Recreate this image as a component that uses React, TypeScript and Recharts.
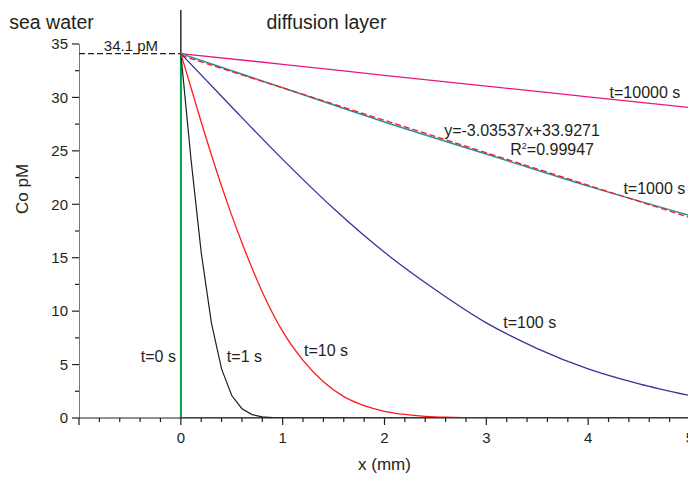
import React from 'react';
import { LineChart, Line, XAxis, YAxis, ReferenceDot } from 'recharts';

// concentration profiles (x in mm, Co in pM)
const xT1 = [0, 0.1, 0.2, 0.3, 0.4, 0.5, 0.6, 0.7, 0.8, 0.9, 1.0, 1.2, 5];
const cT1 = [34.1, 24.2, 15.5, 8.9, 4.6, 2.1, 0.87, 0.32, 0.1, 0.03, 0.01, 0, 0];

const xT10 = [0, 0.2, 0.4, 0.6, 0.8, 1.0, 1.2, 1.4, 1.6, 1.8, 2.0, 2.2, 2.4, 2.6, 2.8, 3.0, 5];
const cT10 = [34.1, 27.7, 21.7, 16.4, 11.8, 8.1, 5.4, 3.4, 2.0, 1.16, 0.63, 0.33, 0.16, 0.07, 0.03, 0.01, 0];

const xT100 = [0, 0.5, 1.0, 1.5, 2.0, 2.5, 3.0, 3.5, 4.0, 4.5, 5.0];
const cT100 = [34.1, 29.1, 24.2, 19.6, 15.5, 12.0, 8.9, 6.5, 4.6, 3.2, 2.1];

const xT1000 = [0, 0.5, 1, 2, 3, 4, 5];
const cT1000 = [34.1, 32.5, 30.9, 27.7, 24.7, 21.7, 18.95];

const xT10000 = [0, 1, 2, 3, 4, 5];
const cT10000 = [34.1, 33.1, 32.07, 31.06, 30.06, 29.05];

const xT0 = [0, 0, 5];
const cT0 = [34.1, 0, 0];

// linear fit of the t=1000 s profile
const xFit = [0, 5];
const cFit = [33.93, 18.75];

const xSea = [-1, 0];
const cSea = [34.1, 34.1];

const xDivider = [0, 0];
const cDivider = [0, 38.18];

const xAxisLine = [-1, -1];
const cAxisLine = [0, 35];

const xMajor = [0, 1, 2, 3, 4, 5];
const yMajor = [0, 5, 10, 15, 20, 25, 30, 35];

const xTicks: number[] = [];
for (let i = -5; i <= 25; i++) xTicks.push(Math.round(i * 20) / 100);
const yTicks: number[] = [];
for (let i = 0; i <= 14; i++) yTicks.push(i * 2.5);

const pts = (xs: number[], ys: number[]) => xs.map((x, i) => ({ x, y: ys[i] }));

const FONT = '"Liberation Sans", Arial, sans-serif';
const AXIS = '#231f20';

const XTick = (props: any) => {
  const { x, y, payload } = props;
  const v = payload.value;
  const major = xMajor.includes(v) || v === -1;
  return (
    <g>
      <line x1={x} y1={y} x2={x} y2={y + (major ? 7 : 4)} stroke={AXIS} strokeWidth={1.2} />
      {xMajor.includes(v) && (
        <text x={x} y={y + 25} textAnchor="middle" fontSize={15} fontFamily={FONT} fill={AXIS}>
          {v}
        </text>
      )}
    </g>
  );
};

const YTick = (props: any) => {
  const { x, y, payload } = props;
  const v = payload.value;
  const major = yMajor.includes(v);
  return (
    <g>
      <line x1={x} y1={y} x2={x - (major ? 7 : 4)} y2={y} stroke={AXIS} strokeWidth={1.2} />
      {major && (
        <text x={x - 11} y={y} dy="0.35em" textAnchor="end" fontSize={15} fontFamily={FONT} fill={AXIS}>
          {v}
        </text>
      )}
    </g>
  );
};

const note = (text: React.ReactNode, size: number, anchor: string) => (props: any) => {
  const vb = props.viewBox || {};
  return (
    <text
      x={vb.x}
      y={vb.y}
      dy="0.35em"
      textAnchor={anchor}
      fontSize={size}
      fontFamily={FONT}
      fill={AXIS}
    >
      {text}
    </text>
  );
};

const notes: { x: number; y: number; text: React.ReactNode; size: number; anchor: string }[] = [
  { x: -1.27, y: 37.06, text: 'sea water', size: 19.5, anchor: 'middle' },
  { x: 1.43, y: 37.06, text: 'diffusion layer', size: 19.5, anchor: 'middle' },
  { x: -0.49, y: 34.85, text: '34.1 pM', size: 15, anchor: 'middle' },
  { x: 4.21, y: 30.5, text: 't=10000 s', size: 16, anchor: 'start' },
  { x: 2.586, y: 26.95, text: 'y=-3.03537x+33.9271', size: 16, anchor: 'start' },
  {
    x: 3.235,
    y: 25.17,
    text: (
      <>
        R<tspan fontSize={9} dy={-6}>2</tspan>
        <tspan dy={6}>=0.99947</tspan>
      </>
    ),
    size: 16,
    anchor: 'start',
  },
  { x: 4.346, y: 21.5, text: 't=1000 s', size: 16, anchor: 'start' },
  { x: 3.166, y: 8.9, text: 't=100 s', size: 16, anchor: 'start' },
  { x: 1.21, y: 6.36, text: 't=10 s', size: 16, anchor: 'start' },
  { x: 0.452, y: 5.8, text: 't=1 s', size: 16, anchor: 'start' },
  { x: -0.393, y: 5.8, text: 't=0 s', size: 16, anchor: 'start' },
];

export default function App() {
  return (
    <div style={{ position: 'absolute', left: 0, top: 0, width: 688, height: 477, overflow: 'hidden', background: '#fff' }}>
      <LineChart width={690} height={477} margin={{ top: 10, right: 0, bottom: 0, left: 0 }}>
        <XAxis
          type="number"
          dataKey="x"
          domain={[-1, 5]}
          ticks={xTicks}
          interval={0}
          allowDataOverflow
          tickSize={0}
          tickMargin={0}
          tickLine={false}
          tick={<XTick />}
          height={59}
          stroke={AXIS}
          strokeWidth={1.2}
          label={{ value: 'x (mm)', position: 'insideBottom', offset: 7, fontSize: 17, fontFamily: FONT, fill: AXIS }}
        />
        <YAxis
          type="number"
          dataKey="y"
          domain={[0, 38.18]}
          ticks={yTicks}
          interval={0}
          allowDataOverflow
          axisLine={false}
          tickSize={0}
          tickMargin={0}
          tickLine={false}
          tick={<YTick />}
          width={79}
          label={{ value: 'Co pM', angle: -90, position: 'insideLeft', offset: 22, fontSize: 17, fontFamily: FONT, fill: AXIS }}
        />
        <Line data={pts(xAxisLine, cAxisLine)} dataKey="y" stroke={AXIS} strokeWidth={1.2} dot={false} isAnimationActive={false} />
        <Line data={pts(xDivider, cDivider)} dataKey="y" stroke={AXIS} strokeWidth={1.4} dot={false} isAnimationActive={false} />
        <Line data={pts(xSea, cSea)} dataKey="y" stroke={AXIS} strokeWidth={1.2} strokeDasharray="6 3" dot={false} isAnimationActive={false} />
        <Line data={pts(xT10000, cT10000)} dataKey="y" type="monotone" stroke="#e6197e" strokeWidth={1.3} dot={false} isAnimationActive={false} />
        <Line data={pts(xT1000, cT1000)} dataKey="y" type="monotone" stroke="#23909e" strokeWidth={1.5} dot={false} isAnimationActive={false} />
        <Line data={pts(xFit, cFit)} dataKey="y" stroke="#ff1a1a" strokeWidth={1.3} strokeDasharray="6 3" dot={false} isAnimationActive={false} />
        <Line data={pts(xT100, cT100)} dataKey="y" type="monotone" stroke="#34349e" strokeWidth={1.3} dot={false} isAnimationActive={false} />
        <Line data={pts(xT0, cT0)} dataKey="y" stroke="#00a651" strokeWidth={1.8} dot={false} isAnimationActive={false} />
        <Line data={pts(xT1, cT1)} dataKey="y" stroke="#231f20" strokeWidth={1.2} dot={false} isAnimationActive={false} />
        <Line data={pts(xT10, cT10)} dataKey="y" type="monotone" stroke="#ff1a1a" strokeWidth={1.3} dot={false} isAnimationActive={false} />
        {notes.map((n, i) => (
          <ReferenceDot
            key={i}
            x={n.x}
            y={n.y}
            r={0}
            ifOverflow="visible"
            fill="none"
            stroke="none"
            label={note(n.text, n.size, n.anchor)}
          />
        ))}
      </LineChart>
    </div>
  );
}
